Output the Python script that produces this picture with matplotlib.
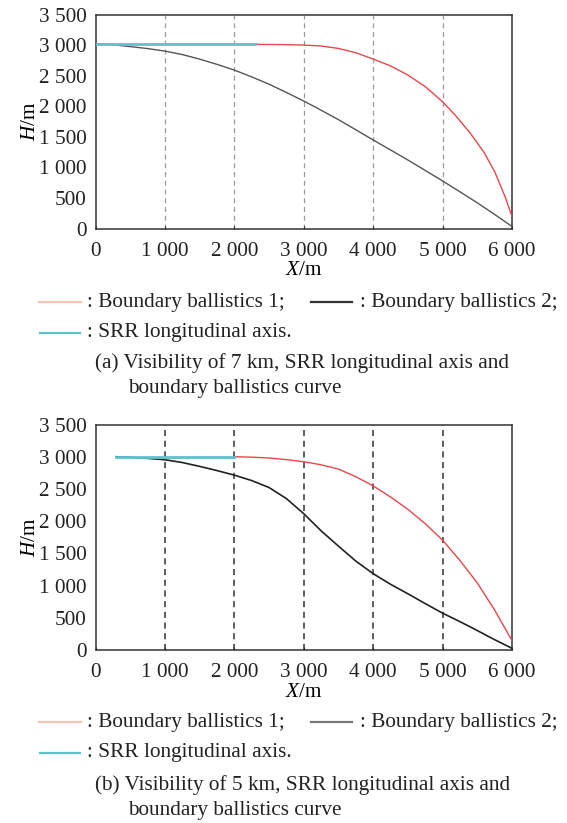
import matplotlib
matplotlib.use("Agg")
import matplotlib.pyplot as plt

plt.rcParams['font.family'] = ['Liberation Serif', 'DejaVu Serif']
plt.rcParams['mathtext.fontset'] = 'custom'
plt.rcParams['mathtext.rm'] = 'Liberation Serif'
plt.rcParams['mathtext.it'] = 'Liberation Serif:italic'

# ---- data (a) visibility 7 km ----
a_srr_x = [0, 2300]
a_srr_y = [3015, 3015]
a_b1_x = [2300, 2700, 3000, 3250, 3500, 3750, 4000, 4250, 4500, 4750, 5000,
          5200, 5400, 5600, 5750, 5900, 6000]
a_b1_y = [3012, 3008, 3000, 2985, 2945, 2875, 2771, 2660, 2510, 2320, 2074,
          1830, 1557, 1240, 930, 520, 196]
a_b2_x = [0, 250, 500, 750, 1000, 1250, 1500, 1750, 2000, 2250, 2500, 2750,
          3000, 3250, 3500, 3750, 4000, 4250, 4500, 4750, 5000, 5250, 5500,
          5750, 6000]
a_b2_y = [3020, 3005, 2975, 2943, 2901, 2845, 2770, 2685, 2591, 2480, 2360,
          2225, 2085, 1935, 1780, 1615, 1448, 1285, 1120, 950, 778, 600, 420,
          230, 33]

# ---- data (b) visibility 5 km ----
b_srr_x = [300, 2000]
b_srr_y = [3000, 3000]
b_b1_x = [2000, 2250, 2500, 2750, 3000, 3250, 3500, 3750, 4000, 4250, 4500,
          4750, 5000, 5250, 5500, 5750, 6000]
b_b1_y = [3000, 2993, 2980, 2955, 2922, 2875, 2808, 2690, 2548, 2375, 2184,
          1960, 1705, 1390, 1040, 620, 146]
b_b2_x = [300, 500, 750, 1000, 1250, 1500, 1750, 2000, 2250, 2500, 2750, 3000,
          3250, 3500, 3750, 4000, 4250, 4500, 4750, 5000, 5250, 5500, 5750,
          6000]
b_b2_y = [3000, 2990, 2975, 2953, 2910, 2850, 2785, 2714, 2630, 2522, 2350,
          2116, 1850, 1612, 1380, 1185, 1020, 873, 720, 572, 440, 302, 160, 26]

xticks = [0, 1000, 2000, 3000, 4000, 5000, 6000]
xticklabels = ['0', '1 000', '2 000', '3 000', '4 000', '5 000', '6 000']
yticks = [0, 500, 1000, 1500, 2000, 2500, 3000, 3500]
yticklabels = ['0', '500', '1 000', '1 500', '2 000', '2 500', '3 000', '3 500']

RED = '#e8474b'
CYAN = '#5cc3cc'
FS = 15.3

W, H = 567, 823
fig = plt.figure(figsize=(W / 100, H / 100), dpi=100)

AX_L, AX_R = 95.5, 512


def make_ax(top_px, bot_px, grid_color, grid_lw):
    ax = fig.add_axes([AX_L / W, (H - bot_px) / H, (AX_R - AX_L) / W,
                       (bot_px - top_px) / H])
    ax.set_xlim(0, 6000)
    ax.set_ylim(0, 3500)
    ax.set_xticks(xticks)
    ax.set_xticklabels(xticklabels)
    ax.set_yticks(yticks)
    ax.set_yticklabels(yticklabels)
    ax.tick_params(direction='in', length=2, labelsize=FS, pad=9.5, colors='#222222')
    ax.tick_params(axis='y', length=0, pad=6.5)
    for x in xticks[1:-1]:
        ax.axvline(x, color=grid_color, lw=grid_lw, ls=(0, (4, 3)), zorder=1)
    for s in ax.spines.values():
        s.set_color('#333333')
        s.set_linewidth(1.1)
    ax.set_ylabel('$H$/m', fontsize=FS, labelpad=-1)
    ax.set_xlabel('$X$/m', fontsize=FS, labelpad=0.5)
    return ax


ax1 = make_ax(14.5, 228.5, '#9a9a9a', 0.9)
ax1.plot(a_b2_x, a_b2_y, color='#555555', lw=1.0, zorder=3)
ax1.plot(a_b1_x, a_b1_y, color=RED, lw=1.0, zorder=3)
ax1.plot(a_srr_x, a_srr_y, color=CYAN, lw=2.0, zorder=4)

ax2 = make_ax(424.5, 650, '#333333', 1.1)
ax2.plot(b_b2_x, b_b2_y, color='#222222', lw=1.2, zorder=3)
ax2.plot(b_b1_x, b_b1_y, color=RED, lw=1.0, zorder=3)
ax2.plot(b_srr_x, b_srr_y, color=CYAN, lw=2.0, zorder=4)


def px(x, y):
    return x / W, (H - y) / H


def legend_block(y1, y2, yc1, yc2, black_col, label):
    fig.add_artist(plt.Line2D([39 / W, 81 / W], [(H - y1) / H] * 2,
                              color='#f6c4b8', lw=1.6))
    fig.text(*px(87, y1), ': Boundary ballistics 1;', fontsize=FS,
             va='center', ha='left', color='#222222')
    fig.add_artist(plt.Line2D([311 / W, 352 / W], [(H - y1) / H] * 2,
                              color=black_col, lw=1.6))
    fig.text(*px(360, y1), ': Boundary ballistics 2;', fontsize=FS,
             va='center', ha='left', color='#222222')
    fig.add_artist(plt.Line2D([40 / W, 80 / W], [(H - y2) / H] * 2,
                              color=CYAN, lw=1.6))
    fig.text(*px(87, y2), ': SRR longitudinal axis.', fontsize=FS,
             va='center', ha='left', color='#222222')
    fig.text(*px(95, yc1), label, fontsize=FS, va='center', ha='left',
             color='#222222')
    fig.text(*px(128, yc2), 'boundary ballistics curve', fontsize=FS,
             va='center', ha='left', color='#222222')


legend_block(302, 333, 363, 388, '#333333',
             '(a) Visibility of 7 km, SRR longitudinal axis and')
legend_block(722, 753, 785, 810, '#777777',
             '(b) Visibility of 5 km, SRR longitudinal axis and')

fig.savefig('out.png', dpi=100)
